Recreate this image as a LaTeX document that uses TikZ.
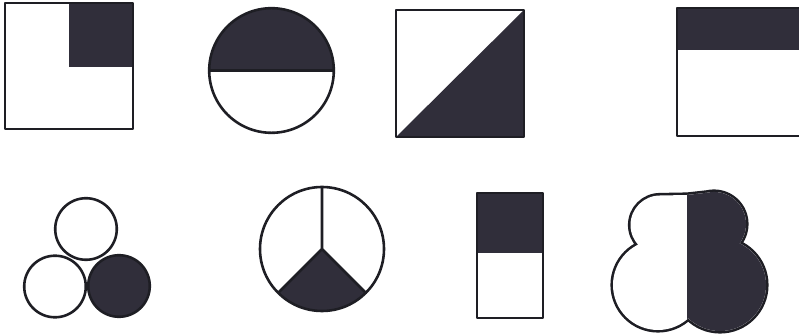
\documentclass[tikz,border=0pt]{standalone}
\usepackage{tikz}
\usepackage{xcolor}
\definecolor{shade}{RGB}{48,46,58}
\definecolor{edge}{RGB}{30,30,36}

\newcommand{\cloudpath}{(c1) circle[radius=29.5] (c2) circle[radius=45]
  (c3) circle[radius=32] (c4) circle[radius=46]
  (660,139.5) -- (658,50) -- (720,50) -- (714,143) -- (687,140) -- cycle}

\begin{document}
\begin{tikzpicture}[x=0.03cm,y=0.03cm,line width=2.2pt,line join=round,
  outline/.style={draw=edge},
  dark/.style={fill=shade}]
\clip (0,0) rectangle (799,335);
\fill[white] (0,0) rectangle (799,335);
% top row
\fill[dark] (69,268) rectangle (133,332);
\draw[outline] (5,206) rectangle (133,332);
\coordinate (o2) at (271.5,264.5);
\fill[dark] (o2) ++(0:62.3) arc[start angle=0,end angle=180,radius=62.3] -- cycle;
\draw[outline] (o2) circle[radius=62.3];
\draw[outline] (o2) ++(180:62.3) -- ++(0:124.6);
\fill[dark] (396,198) -- (524,325) -- (524,198) -- cycle;
\draw[outline] (396,198) rectangle (524,325);
\fill[dark] (677,285) rectangle (830,327);
\draw[outline] (677,199) rectangle (830,327);
% bottom row
\coordinate (t1) at (86,106);
\coordinate (t2) at (55,48.5);
\coordinate (t3) at (119,49);
\draw[outline] (t1) circle[radius=30.8];
\draw[outline] (t2) circle[radius=30.8];
\draw[outline,dark] (t3) circle[radius=30.8];
\coordinate (o6) at (322,86);
\fill[dark] (o6) -- ++(225:62) arc[start angle=225,end angle=315,radius=62] -- cycle;
\draw[outline] (o6) circle[radius=62];
\draw[outline] (o6) -- ++(90:62) (o6) -- ++(225:62) (o6) -- ++(315:62);
\fill[dark] (477,82) rectangle (543,142);
\draw[outline] (477,17) rectangle (543,142);
\coordinate (c1) at (660,110);
\coordinate (c2) at (658,50);
\coordinate (c3) at (714,111);
\coordinate (c4) at (720,50);
\draw[draw=edge,line width=4.4pt] \cloudpath;
\fill[white] \cloudpath;
\begin{scope}
  \clip (687,0) rectangle (799,335);
  \fill[dark] \cloudpath;
\end{scope}
\end{tikzpicture}
\end{document}
